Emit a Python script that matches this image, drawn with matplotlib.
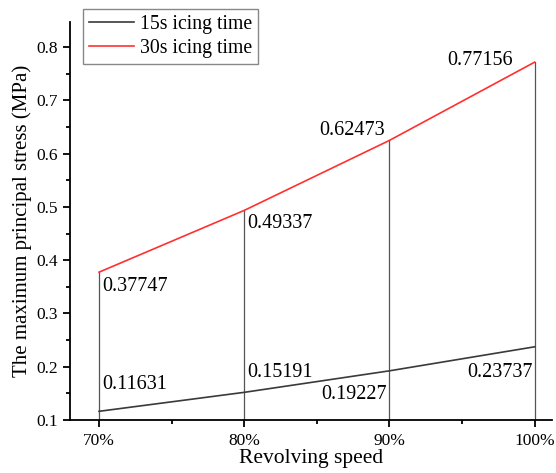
import numpy as np
import matplotlib.pyplot as plt
from matplotlib.ticker import MultipleLocator, FuncFormatter

plt.rcParams['font.family'] = ['Liberation Serif', 'DejaVu Serif']

speed = [70, 80, 90, 100]
stress_15s = [0.11631, 0.15191, 0.19227, 0.23737]
stress_30s = [0.37747, 0.49337, 0.62473, 0.77156]
# text anchors for value labels (x, y in data units)
lab15 = [(70.2, 0.166, 'left'), (80.2, 0.19, 'left'), (89.8, 0.147, 'right'), (99.9, 0.19, 'right')]
lab30 = [(70.2, 0.35, 'left'), (80.2, 0.468, 'left'), (89.7, 0.644, 'right'), (98.5, 0.775, 'right')]

fig = plt.figure(figsize=(5.56, 4.73), dpi=100)
ax = fig.add_axes([70/556, 53/473, 482/556, 398/473])

for x, y in zip(speed, stress_30s):
    ax.plot([x, x], [0.1, y], color='#555555', lw=0.9, zorder=1)

ax.plot(speed, stress_15s, color='#3a3a3a', lw=1.2, label='15s icing time', zorder=2)
ax.plot(speed, stress_30s, color='#ff3030', lw=1.2, label='30s icing time', zorder=2)

for (tx, ty, ha), v in zip(lab15, stress_15s):
    ax.text(tx, ty, f'{v:.5f}', fontsize=14.5, ha=ha, va='center')
for (tx, ty, ha), v in zip(lab30, stress_30s):
    ax.text(tx, ty, f'{v:.5f}', fontsize=14.5, ha=ha, va='center')

ax.set_xlim(68, 101.2)
ax.set_ylim(0.1, 0.847)
ax.set_xticks(speed)
ax.xaxis.set_major_formatter(FuncFormatter(lambda v, p: f'{v:.0f}%'))
ax.xaxis.set_minor_locator(MultipleLocator(5))
ax.yaxis.set_major_locator(MultipleLocator(0.1))
ax.yaxis.set_minor_locator(MultipleLocator(0.05))
ax.yaxis.set_major_formatter(FuncFormatter(lambda v, p: f'{v:.1f}'))
ax.spines['top'].set_visible(False)
ax.spines['right'].set_visible(False)
for s in ('left', 'bottom'):
    ax.spines[s].set_linewidth(1.3)
ax.tick_params(which='major', length=5, width=1.3, labelsize=12.5)
ax.tick_params(axis='x', which='major', pad=4)
ax.tick_params(which='minor', length=3, width=1.3)

ax.set_xlabel('Revolving speed', fontsize=15.5, labelpad=0)
ax.set_ylabel('The maximum principal stress (MPa)', fontsize=15, labelpad=3)

fig.legend(loc='upper left', bbox_to_anchor=(83/556, 1 - 9/473), fontsize=14.2,
           frameon=True, fancybox=False, edgecolor='#888888', framealpha=1,
           handlelength=2.3, borderpad=0.3, labelspacing=0.25, handletextpad=0.3,
           borderaxespad=0)

fig.savefig('out.png', dpi=100)
